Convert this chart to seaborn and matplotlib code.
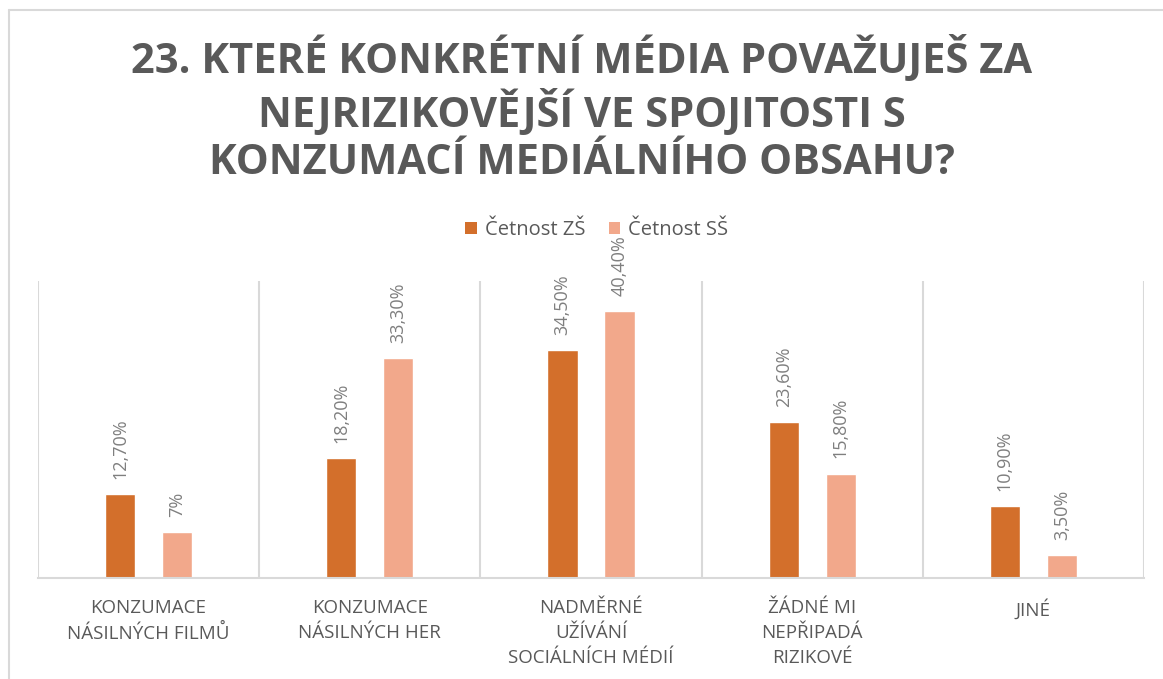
import numpy as np
import pandas as pd
import matplotlib
matplotlib.use("Agg")
import matplotlib.pyplot as plt
from matplotlib.lines import Line2D
from matplotlib.patches import Patch
import seaborn as sns

categories = [
    "KONZUMACE\nNÁSILNÝCH FILMŮ",
    "KONZUMACE\nNÁSILNÝCH HER",
    "NADMĚRNÉ\nUŽÍVÁNÍ\nSOCIÁLNÍCH MÉDIÍ",
    "ŽÁDNÉ MI\nNEPŘIPADÁ\nRIZIKOVÉ",
    "JINÉ",
]
series_names = ["Četnost ZŠ", "Četnost SŠ"]
values_zs = [12.7, 18.2, 34.5, 23.6, 10.9]
values_ss = [7.0, 33.3, 40.4, 15.8, 3.5]
labels_zs = ["12,70%", "18,20%", "34,50%", "23,60%", "10,90%"]
labels_ss = ["7%", "33,30%", "40,40%", "15,80%", "3,50%"]
title = "23. KTERÉ KONKRÉTNÍ MÉDIA POVAŽUJEŠ ZA\nNEJRIZIKOVĚJŠÍ VE SPOJITOSTI S\nKONZUMACÍ MEDIÁLNÍHO OBSAHU?"

colors = ["#D36F2B", "#F2A88B"]

df = pd.DataFrame({
    "cat": categories * 2,
    "val": values_zs + values_ss,
    "series": [series_names[0]] * 5 + [series_names[1]] * 5,
})

sns.set_theme(style="white")
plt.rcParams["font.family"] = ["Open Sans", "DejaVu Sans"]

W, H = 1163, 679
fig = plt.figure(figsize=(W / 100, H / 100), dpi=100)
ax = fig.add_axes([38 / W, 1 - 578 / H, (1144 - 38) / W, (578 - 281) / H])

sns.barplot(data=df, x="cat", y="val", hue="series", palette=colors,
            width=0.516, gap=0.47, ax=ax, legend=False, saturation=1)

ax.set_ylim(0, 45)
ax.set_xlim(-0.5, 4.5)
ax.set_xlabel("")
ax.set_ylabel("")
ax.set_yticks([])

for cont, labs in zip(ax.containers, [labels_zs, labels_ss]):
    ax.bar_label(cont, labels=labs, rotation=90, padding=11,
                 fontsize=13, color="#7F7F7F")

ax.set_xticks(np.arange(-0.5, 5), minor=True)
ax.grid(which="minor", axis="x", color="#D9D9D9", linewidth=1.5)
ax.tick_params(axis="x", which="both", length=0, pad=15)
ax.tick_params(axis="x", which="major", labelsize=13.5, labelcolor="#595959")
for lab in ax.get_xticklabels():
    lab.set_linespacing(1.5)
for s in ["top", "left", "right"]:
    ax.spines[s].set_visible(False)
ax.spines["bottom"].set_color("#D9D9D9")
ax.spines["bottom"].set_linewidth(1.5)

fig.text(0.5, 1 - 110 / H, title, ha="center", va="center",
         fontsize=30, fontweight="bold", color="#595959", linespacing=1.2)

handles = [Patch(facecolor=c, edgecolor="none") for c in colors]
fig.legend(handles, series_names, loc="center", bbox_to_anchor=(597 / W, 1 - 230 / H),
           ncol=2, frameon=False, fontsize=14.5, labelcolor="#595959",
           handlelength=0.55, handleheight=0.55, handletextpad=0.4, columnspacing=1.2)

fig.add_artist(Line2D([8.5 / W, 8.5 / W], [0, 1 - 10 / H], color="#D9D9D9", lw=1.5))
fig.add_artist(Line2D([8.5 / W, 1], [1 - 10 / H, 1 - 10 / H], color="#D9D9D9", lw=1.5))

fig.savefig("out.png", dpi=100, facecolor="white")
